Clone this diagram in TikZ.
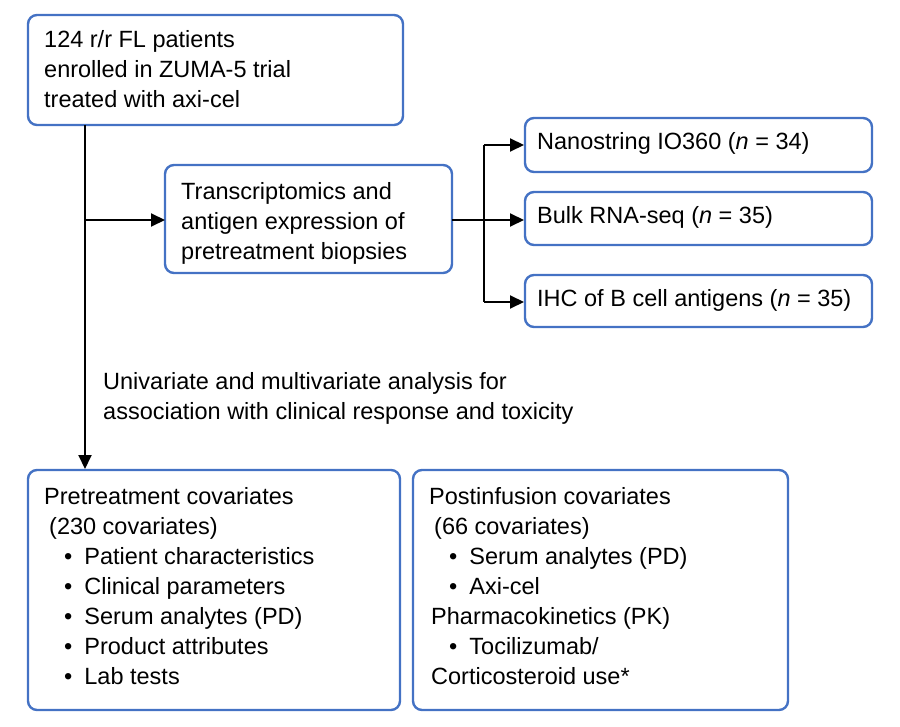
\documentclass[tikz,border=0pt]{standalone}
\usepackage{fontspec}
\setmainfont{Liberation Sans}
\usetikzlibrary{arrows.meta}
\definecolor{boxblue}{RGB}{68,114,196}
\tikzset{
  box/.style={draw=boxblue, line width=2.4pt, rounded corners=9pt, inner sep=0pt},
  txt/.style={anchor=north west, align=left, inner sep=0pt, font=\fontsize{23.5}{30}\selectfont},
  arr/.style={line width=2pt, -{Triangle[length=14pt,width=13pt]}},
  ln/.style={line width=2pt}
}
\begin{document}
\begin{tikzpicture}[x=1pt,y=-1pt]
\useasboundingbox (0,0) rectangle (900,727);

%Boxes
\draw[box] (28,15) rectangle (403,125);
\draw[box] (165,165) rectangle (452,273);
\draw[box] (525,118) rectangle (872,172);
\draw[box] (525,192) rectangle (872,245);
\draw[box] (525,275) rectangle (872,327);
\draw[box] (28,470) rectangle (400,710);
\draw[box] (413,470) rectangle (788,710);

% Text Nodes
\node[txt] (patients) at (44,30) {124 r/r FL patients\\enrolled in ZUMA-5 trial\\treated with axi-cel};
\node[txt] (transcr) at (181,182) {Transcriptomics and\\antigen expression of\\pretreatment biopsies};
\node[txt] (nano) at (537,132) {Nanostring IO360 (\textit{n} = 34)};
\node[txt] (bulk) at (525,206) {\hspace{12pt}Bulk RNA-seq (\textit{n} = 35)};
\node[txt] (ihc) at (537,289) {IHC of B cell antigens (\textit{n} = 35)};
\node[txt] (uni) at (103,372) {Univariate and multivariate analysis for\\association with clinical response and toxicity};
\node[txt] (pre) at (44,487) {Pretreatment covariates\\\hspace*{5pt}(230 covariates)\\
\hspace*{20pt}•\hspace{12pt}Patient characteristics\\
\hspace*{20pt}•\hspace{12pt}Clinical parameters\\
\hspace*{20pt}•\hspace{12pt}Serum analytes (PD)\\
\hspace*{20pt}•\hspace{12pt}Product attributes\\
\hspace*{20pt}•\hspace{12pt}Lab tests};
\node[txt] (post) at (429,487) {Postinfusion covariates\\\hspace*{5pt}(66 covariates)\\
\hspace*{20pt}•\hspace{12pt}Serum analytes (PD)\\
\hspace*{20pt}•\hspace{12pt}Axi-cel\\
\hspace*{2pt}Pharmacokinetics (PK)\\
\hspace*{20pt}•\hspace{12pt}Tocilizumab/\\
\hspace*{2pt}Corticosteroid use*};

%Connectors
\coordinate (top) at (85,125);
\coordinate (split) at (85,220);
\coordinate (bot) at (85,469);
\coordinate (tleft) at (165,220);
\coordinate (tright) at (452,220);
\coordinate (fork) at (484,220);
\coordinate (forkt) at (484,145);
\coordinate (forkb) at (484,302);
\draw[ln] (top) -- (split);
\draw[arr] (split) -- (bot);
\draw[arr] (split) -- (tleft);
\draw[ln] (tright) -- (fork);
\draw[ln] (forkt) -- (forkb);
\draw[arr] (forkt) -- (524,145);
\draw[arr] (fork) -- (524,220);
\draw[arr] (forkb) -- (524,302);
\end{tikzpicture}
\end{document}
